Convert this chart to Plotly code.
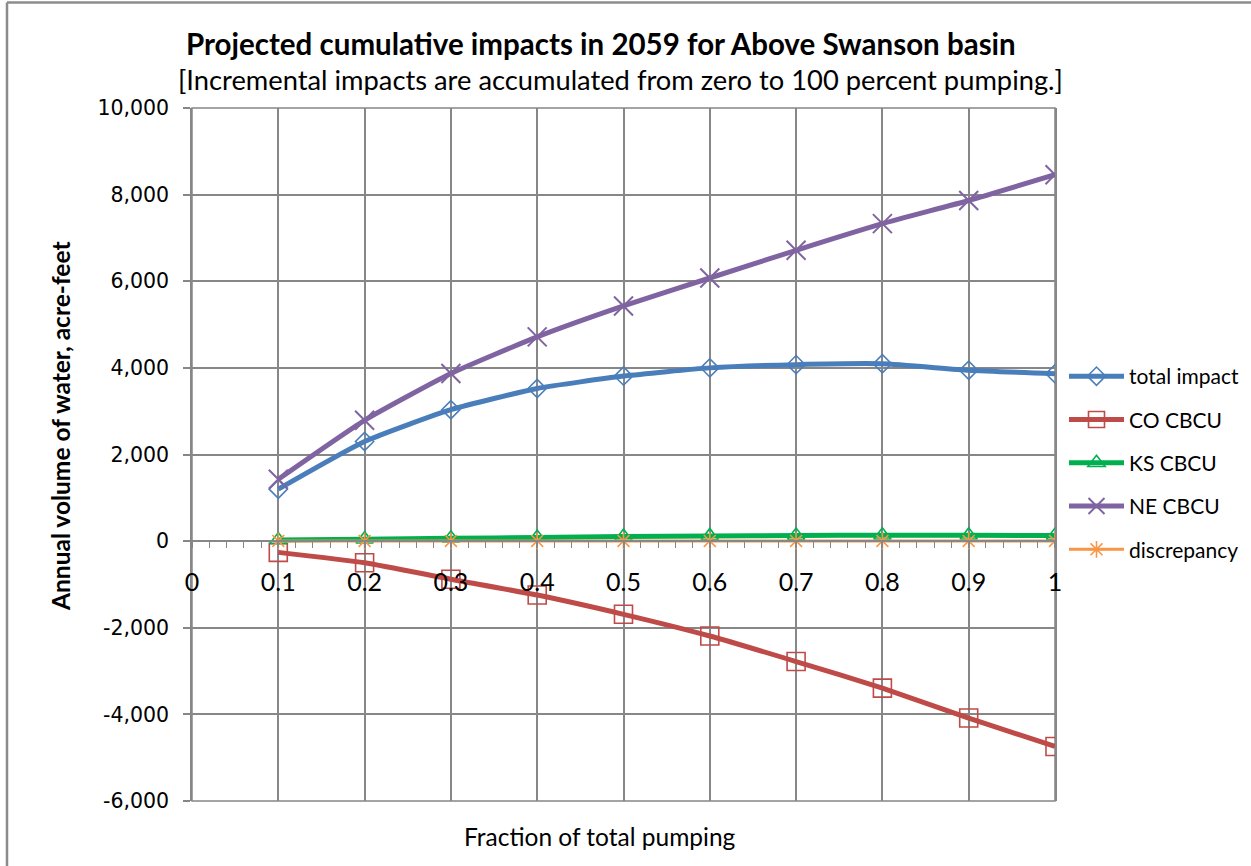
import plotly.graph_objects as go

# Fraction of total pumping
fraction = [0.1, 0.2, 0.3, 0.4, 0.5, 0.6, 0.7, 0.8, 0.9, 1.0]

# Cumulative impacts, acre-feet per year
total_impact = [1200, 2300, 3035, 3525, 3810, 4000, 4075, 4095, 3945, 3865]
co_cbcu = [-260, -500, -880, -1245, -1690, -2190, -2780, -3395, -4085, -4740]
ks_cbcu = [25, 45, 65, 85, 105, 120, 130, 135, 135, 130]
ne_cbcu = [1430, 2790, 3870, 4715, 5430, 6075, 6715, 7330, 7865, 8460]
discrepancy = [5, 5, 5, 5, 5, 5, 5, 5, 5, 5]

y_ticks = list(range(-6000, 10001, 2000))
y_tick_text = [f"{v:,}" for v in y_ticks]
x_ticks = [0, 0.1, 0.2, 0.3, 0.4, 0.5, 0.6, 0.7, 0.8, 0.9, 1.0]
x_tick_text = ["0", "0.1", "0.2", "0.3", "0.4", "0.5", "0.6", "0.7", "0.8", "0.9", "1"]

series = [
    ("total impact", total_impact, "#4A7EBB", 5, "diamond-open", 14, 1.6),
    ("CO CBCU", co_cbcu, "#BE4B48", 5, "square-open", 18, 1.6),
    ("KS CBCU", ks_cbcu, "#00B050", 5, "triangle-up-open", 15, 1.6),
    ("NE CBCU", ne_cbcu, "#8064A2", 5, "x-thin-open", 19, 2),
    ("discrepancy", discrepancy, "#F79646", 3, "asterisk-open", 14, 1.6),
]

fig = go.Figure()
for i, (name, vals, color, lw, sym, msize, mlw) in enumerate(series):
    fig.add_trace(go.Scatter(
        x=fraction, y=vals, name=name, mode="lines+markers",
        line=dict(color=color, width=lw, shape="spline", smoothing=0.5),
        marker=dict(symbol=sym, size=msize, color=color,
                    line=dict(color=color, width=mlw)),
        legendgroup=f"g{i}",
    ))

grid_color = "#878787"
W, H = 1251, 866
L, R, T, B = 192, 1055, 108, 801
pw, ph = R - L, B - T


def px(x):
    return (x - L) / pw


def py(y):
    return (B - y) / ph


fig.update_layout(
    width=W, height=H,
    margin=dict(l=L, r=W - R, t=T, b=H - B, autoexpand=False),
    paper_bgcolor="white", plot_bgcolor="white",
    font=dict(family="Lato, Calibri, sans-serif", color="black"),
    showlegend=True,
    legend=dict(
        x=px(1064), y=py(463), xanchor="left", yanchor="middle",
        font=dict(family="Lato, Calibri, sans-serif", size=21, color="black"),
        traceorder="grouped", tracegroupgap=13,
        bgcolor="rgba(0,0,0,0)", itemwidth=55,
    ),
    xaxis=dict(
        range=[0, 1], tickvals=x_ticks, ticktext=x_tick_text,
        showgrid=True, gridcolor=grid_color, gridwidth=1.5,
        anchor="free", position=0.375,
        showline=True, linecolor=grid_color, linewidth=2,
        ticks="outside", ticklen=6, tickcolor=grid_color, tickwidth=1.5,
        ticklabelstandoff=13,
        minor=dict(dtick=0.02, ticks="outside", ticklen=6,
                   tickcolor=grid_color, tickwidth=1.2, showgrid=False),
        zeroline=False,
        tickfont=dict(family="Lato, Calibri, sans-serif", size=25, color="black"),
    ),
    yaxis=dict(
        range=[-6000, 10000], tickvals=y_ticks, ticktext=y_tick_text,
        showgrid=True, gridcolor=grid_color, gridwidth=1.5,
        showline=True, linecolor=grid_color, linewidth=1.5, mirror=True,
        ticks="outside", ticklen=7, tickcolor=grid_color, tickwidth=1.5,
        ticklabelstandoff=10,
        zeroline=False,
        tickfont=dict(family="DejaVu Sans, Verdana, sans-serif", size=20.5, color="black"),
    ),
)

# plot-area frame and chart border
fig.add_shape(type="rect", xref="paper", yref="paper", x0=0, x1=1, y0=0, y1=1,
              line=dict(color=grid_color, width=1.5), layer="below")
fig.add_shape(type="line", xref="paper", yref="paper",
              x0=px(7), x1=px(W + 5), y0=py(2.5), y1=py(2.5),
              line=dict(color="#8C8C8C", width=2.5))
fig.add_shape(type="line", xref="paper", yref="paper",
              x0=px(7), x1=px(7), y0=py(2.5), y1=py(H + 5),
              line=dict(color="#8C8C8C", width=2.5))

fig.add_annotation(
    text="<b>Projected cumulative impacts in 2059 for Above Swanson basin</b>",
    xref="paper", yref="paper", x=px(601), y=py(43),
    xanchor="center", yanchor="middle", showarrow=False,
    font=dict(family="Lato, Calibri, sans-serif", size=29.5, color="black"))
fig.add_annotation(
    text="[Incremental impacts are accumulated from zero to 100 percent pumping.]",
    xref="paper", yref="paper", x=px(620), y=py(80),
    xanchor="center", yanchor="middle", showarrow=False,
    font=dict(family="Lato, Calibri, sans-serif", size=27.3, color="black"))
fig.add_annotation(
    text="Fraction of total pumping",
    xref="paper", yref="paper", x=px(600), y=py(836),
    xanchor="center", yanchor="middle", showarrow=False,
    font=dict(family="Lato, Calibri, sans-serif", size=24.5, color="black"))
fig.add_annotation(
    text="<b>Annual volume of water, acre-feet</b>",
    xref="paper", yref="paper", x=px(60), y=py(426), textangle=-90,
    xanchor="center", yanchor="middle", showarrow=False,
    font=dict(family="Lato, Calibri, sans-serif", size=24.5, color="black"))

fig.write_html("out.html")
